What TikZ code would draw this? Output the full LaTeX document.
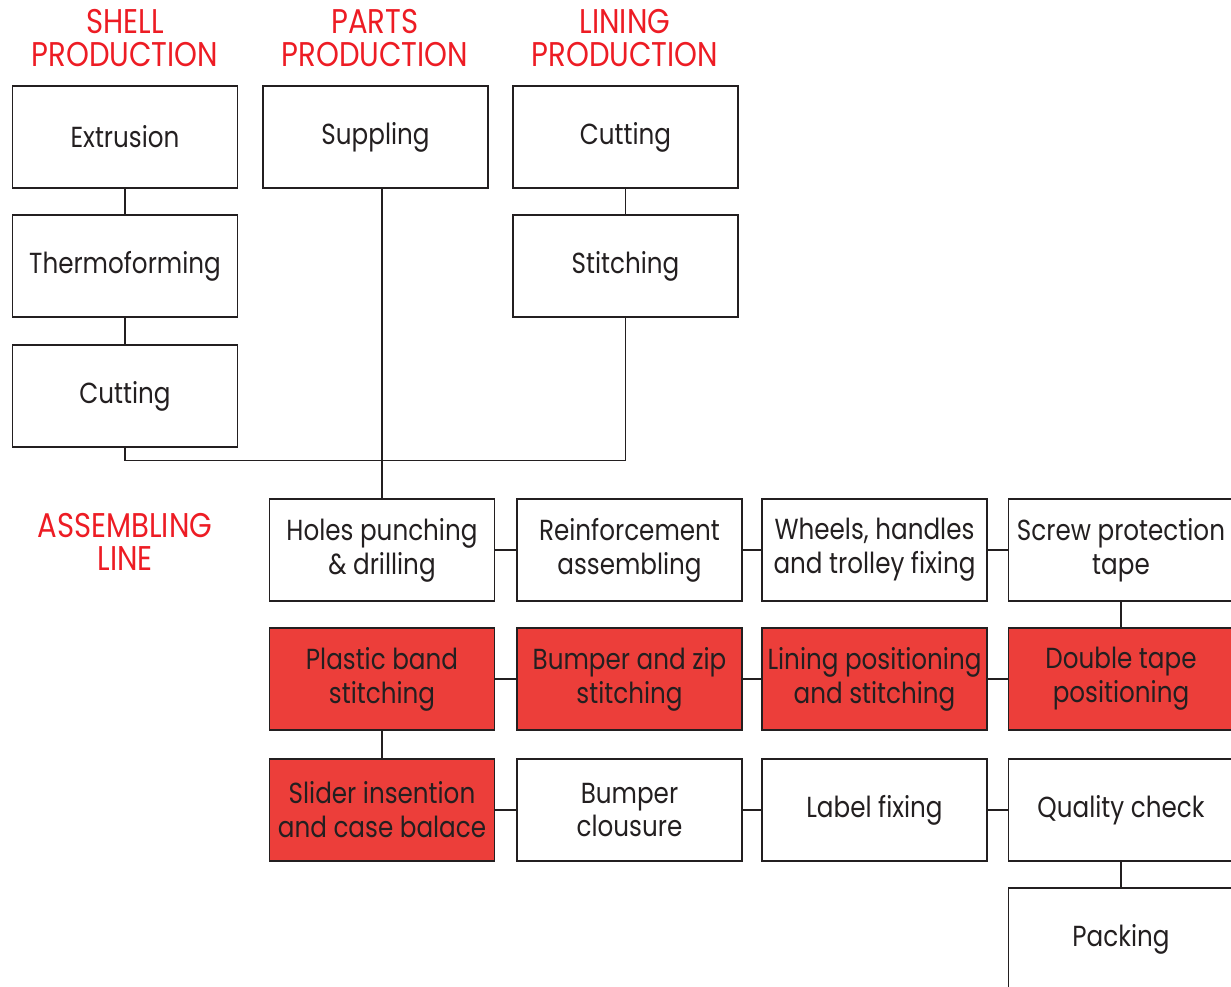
\documentclass[tikz,border=0pt]{standalone}
\usepackage{fontspec}
\setmainfont{Poppins}
\newfontfamily\stagefont[FakeStretch=0.85]{Poppins}
\definecolor{headred}{RGB}{237,28,36}
\definecolor{stepred}{RGB}{236,62,58}
\definecolor{ink}{RGB}{35,31,32}

\begin{document}
\begin{tikzpicture}[x=0.02cm, y=-0.02cm]
	\tikzstyle{stage} = [draw=ink, line width=0.7pt, minimum width=4.5cm, minimum height=2.04cm, inner sep=0pt, align=center, text=ink, font=\stagefont\fontsize{16.5}{19.3}\selectfont]
	\tikzstyle{hot} = [stage, fill=stepred]
	\tikzstyle{head} = [align=center, text=headred, font=\stagefont\fontsize{19.5}{18.7}\selectfont]
	\tikzstyle{link} = [draw=ink, line width=0.7pt]

	\clip (0,0) rectangle (1231,987);

%----------Headings------------------------------
	\node[head] (hshell) at (125,38) {SHELL\\PRODUCTION};
	\node[head] (hparts) at (375,38) {PARTS\\PRODUCTION};
	\node[head] (hlining) at (625,38) {LINING\\PRODUCTION};
	\node[head] (hline) at (125,542) {ASSEMBLING\\LINE};

%----------Shell------------------------------
	\node[stage] (extr) at (125,137) {Extrusion};
	\node[stage] (therm) at (125,266) {Thermoforming};
	\node[stage] (scut) at (125,396) {Cutting};

	\path[link] (extr) -- (therm);
	\path[link] (therm) -- (scut);

%----------Parts and lining------------------------------
	\node[stage] (supp) at (375.5,137) {Suppling};
	\node[stage] (lcut) at (625.5,137) {Cutting};
	\node[stage] (lstitch) at (625.5,266) {Stitching};

	\path[link] (lcut) -- (lstitch);

%----------Assembling line------------------------------
	\node[stage] (holes) at (382,550) {Holes punching\\\& drilling};
	\node[stage] (reinf) at (629.5,550) {Reinforcement\\assembling};
	\node[stage] (wheels) at (874.5,550) {Wheels, handles\\and trolley fixing};
	\node[stage] (screw) at (1121,550) {Screw protection\\tape};

	\node[hot] (band) at (382,679) {Plastic band\\stitching};
	\node[hot] (zip) at (629.5,679) {Bumper and zip\\stitching};
	\node[hot] (linpos) at (874.5,679) {Lining positioning\\and stitching};
	\node[hot] (dtape) at (1121,679) {Double tape\\positioning};

	\node[hot] (slider) at (382,810) {Slider insention\\and case balace};
	\node[stage] (closure) at (629.5,810) {Bumper\\clousure};
	\node[stage] (label) at (874.5,810) {Label fixing};
	\node[stage] (quality) at (1121,810) {Quality check};

	\node[stage] (pack) at (1121,939) {Packing};

%----------Feeding the line------------------------------
	\draw[link] (scut.south) -- ++(0,13) -| (lstitch.south);
	\draw[link] (holes.north) -- (holes.north |- supp.south);

	\path[link] (holes) -- (reinf);
	\path[link] (reinf) -- (wheels);
	\path[link] (wheels) -- (screw);
	\path[link] (screw) -- (dtape);
	\path[link] (dtape) -- (linpos);
	\path[link] (linpos) -- (zip);
	\path[link] (zip) -- (band);
	\path[link] (band) -- (slider);
	\path[link] (slider) -- (closure);
	\path[link] (closure) -- (label);
	\path[link] (label) -- (quality);
	\path[link] (quality) -- (pack);
\end{tikzpicture}
\end{document}
